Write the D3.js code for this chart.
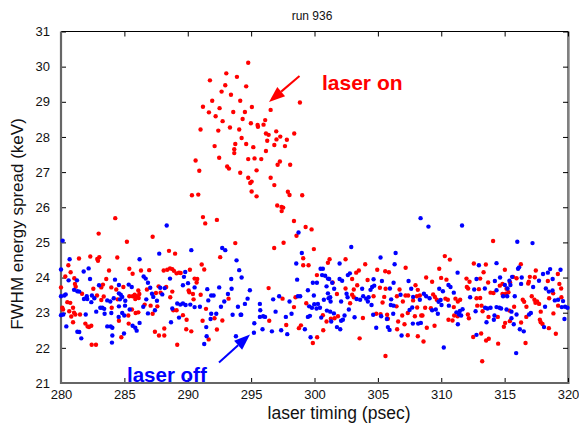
<!DOCTYPE html>
<html><head><meta charset="utf-8">
<script src="https://cdn.jsdelivr.net/npm/d3@7/dist/d3.min.js"></script>
<style>
body{margin:0;background:#fff;}
svg text{font-family:"Liberation Sans",Arial,sans-serif;}
</style></head>
<body><svg id="c" width="579" height="426"></svg>
<script>
const title = "run 936";
const xLabel = "laser timing (psec)";
const yLabel = "FWHM energy spread (keV)";
const xTicks = [280,285,290,295,300,305,310,315,320];
const yTicks = [21,22,23,24,25,26,27,28,29,30,31];
const seriesNames = ["laser on","laser off"];

// laser on (red): [timing psec, FWHM keV]
const laserOn = [
[294.77,30.11],[293.04,29.81],[293.88,29.71],[291.75,29.61],[292.96,29.47],[294.61,29.44],[292.67,29.29],[293.41,29.20],[291.93,29.03],[294.14,29.03],[298.85,28.98],[291.2,28.86],[292.51,28.82],[295.06,28.85],[291.67,28.70],[293.59,28.71],[294.51,28.71],[296.54,28.77],[292.2,28.59],[294.33,28.51],[292.75,28.45],[294.98,28.39],[295.51,28.34],[295.54,28.29],[295.98,28.35],[296.11,28.48],[291.01,28.21],[292.41,28.18],[293.33,28.27],[294.06,28.21],[296.17,28.10],[296.38,28.06],[296.98,28.16],[298.4,28.10],[297.3,28.01],[294.25,27.97],[296.27,27.89],[297.0,27.93],[297.82,27.92],[292.12,27.74],[293.75,27.80],[294.61,27.80],[295.17,27.71],[296.83,27.77],[297.67,27.74],[293.67,27.65],[296.17,27.60],[293.67,27.54],[292.48,27.41],[294.77,27.37],[295.27,27.39],[295.8,27.37],[290.62,27.33],[297.27,27.30],[297.09,27.21],[298.08,27.21],[293.11,27.16],[293.25,27.10],[290.91,27.04],[295.43,27.05],[294.14,26.98],[294.77,26.84],[296.54,26.84],[295.04,26.73],[294.93,26.69],[296.83,26.63],[295.04,26.45],[290.33,26.34],[290.83,26.36],[295.43,26.31],[297.9,26.44],[298.03,26.35],[299.03,26.34],[297.06,26.05],[297.4,26.01],[297.53,25.99],[297.41,25.89],
[298.38,25.61],[299.3,25.44],[299.77,25.37],[298.58,25.19],[297.56,24.99],[296.82,24.84],[299.95,24.81],[299.11,24.55],[299.11,24.35],[299.53,24.35],[301.19,24.52],[301.06,24.42],[300.19,24.07],[296.38,23.70],[297.48,23.40],[298.5,23.44],[299.35,23.27],[298.38,23.16],[300.66,22.93],[301.29,22.83],[296.43,22.77],[300.95,22.75],[297.77,22.65],[298.93,22.64],[298.77,22.56],[300.69,22.50],[300.21,22.30],[299.87,22.14],
[291.2,25.72],[291.38,25.54],[292.3,25.64],[287.23,25.16],[293.75,24.98],[288.52,24.76],[289.0,24.68],[292.56,24.58],[291.1,24.37],[291.3,24.23],[288.1,24.20],[288.38,24.22],[288.6,24.26],[288.78,24.24],[288.91,24.19],[289.12,24.12],[289.31,24.14],[289.44,24.13],[290.17,24.22],[286.96,24.21],[290.54,23.97],[290.75,23.96],[290.7,23.86],[287.7,23.75],[288.3,23.73],[288.78,23.60],[290.07,23.63],[290.12,23.58],[290.41,23.53],[291.02,23.51],[287.49,23.56],[287.86,23.57],[293.22,23.40],[288.62,23.44],[290.46,23.38],[287.07,23.20],[287.6,23.18],[291.44,23.11],[287.23,22.97],[288.86,23.07],[289.12,23.07],[292.11,22.84],[289.62,22.93],[289.91,22.80],[291.17,22.77],[292.73,22.78],[288.15,22.55],[289.88,22.53],[290.28,22.47],[292.3,22.52],[287.41,22.46],[287.73,22.35],[288.15,22.35],[291.65,22.24],[289.17,22.09],
[284.28,25.69],[282.97,25.25],[285.2,25.02],[281.42,24.54],[282.31,24.60],[282.86,24.53],[283.02,24.58],[282.92,24.48],[284.44,24.57],[280.58,24.35],[280.76,24.15],[283.79,24.20],[285.39,24.25],[285.65,24.11],[286.31,24.20],[280.34,24.03],[281.05,23.98],[283.57,23.96],[283.31,23.80],[283.18,23.72],[281.1,23.82],[281.16,23.74],[280.0,23.72],[284.92,23.73],[282.55,23.68],[283.97,23.72],[284.36,23.66],[286.78,23.66],[286.1,23.63],[281.66,23.54],[283.37,23.46],[283.18,23.36],[282.84,23.49],[284.47,23.38],[285.39,23.47],[285.65,23.47],[285.81,23.51],[285.97,23.47],[286.13,23.42],[285.86,23.39],[286.18,23.53],[280.73,23.28],[280.5,23.30],[280.1,23.14],[280.16,23.09],[280.95,23.14],[284.0,23.14],[286.1,23.01],[285.89,22.99],[285.6,23.09],[286.6,23.23],[280.81,22.89],[281.03,23.0],[281.13,22.95],[280.65,23.04],[281.5,22.95],[285.31,22.92],[284.57,22.77],[280.95,22.73],[281.92,22.69],[282.1,22.61],[282.21,22.59],[282.39,22.63],[285.34,22.69],[284.76,22.30],[282.42,22.09],[282.76,22.09],
[302.45,24.52],[304.0,24.38],[307.19,24.28],[304.95,24.22],[305.58,24.18],[305.87,24.15],[303.5,24.20],[303.29,24.14],[301.43,23.86],[302.97,23.96],[304.19,23.93],[307.97,23.78],[302.45,23.69],[303.37,23.78],[303.1,23.66],[305.16,23.71],[305.61,23.68],[306.71,23.66],[308.15,23.65],[301.77,23.53],[302.97,23.51],[303.1,23.44],[304.66,23.47],[305.5,23.45],[306.5,23.47],[307.18,23.49],[307.39,23.49],[308.08,23.47],[308.31,23.49],[307.78,23.35],[302.81,23.27],[305.37,23.29],[306.47,23.18],[306.97,23.32],[308.1,23.15],[304.87,22.97],[305.21,22.96],[305.73,22.94],[305.79,22.83],[306.92,22.92],[307.36,22.99],[307.92,22.90],[308.42,22.92],[301.58,22.84],[301.85,22.90],[303.82,22.85],[306.6,22.75],[307.1,22.67],[306.52,22.53],[307.36,22.36],[308.15,22.33],[303.56,22.27],[305.6,21.77],
[314.09,25.04],[310.28,24.61],[310.68,24.51],[309.84,24.25],[312.57,24.40],[313.52,24.37],[313.34,24.15],[315.02,24.22],[308.81,24.0],[309.28,23.88],[309.99,23.99],[310.41,23.94],[311.99,23.97],[312.23,23.88],[313.07,23.97],[313.7,23.86],[312.02,23.73],[312.12,23.69],[312.97,23.67],[314.62,23.77],[313.89,23.57],[314.12,23.56],[314.83,23.53],[315.1,23.54],[315.3,23.58],[309.36,23.52],[309.5,23.45],[309.65,23.37],[310.33,23.40],[310.52,23.37],[311.12,23.40],[311.31,23.32],[311.49,23.37],[312.78,23.41],[313.07,23.42],[308.73,23.14],[309.18,23.13],[310.99,23.16],[312.84,23.20],[313.18,23.20],[313.26,23.04],[308.52,22.92],[311.02,22.92],[311.29,22.90],[312.1,22.95],[312.18,22.84],[310.57,22.80],[310.89,22.78],[313.73,22.88],[314.46,22.88],[315.04,22.71],[315.41,22.76],[314.94,22.60],[308.86,22.57],[309.47,22.63],[312.52,22.31],[313.15,22.41],[313.54,22.21],[313.75,22.26],[314.49,22.12],[308.6,22.18],[313.23,21.62],
[316.28,24.38],[317.46,24.20],[319.2,24.10],[316.99,24.02],[317.38,24.01],[315.67,24.02],[315.94,23.98],[318.41,23.90],[315.43,23.86],[314.83,23.82],[316.91,23.88],[316.86,23.83],[319.32,23.82],[315.15,23.68],[319.46,23.69],[318.83,23.55],[317.14,23.47],[317.35,23.37],[317.56,23.32],[317.43,23.28],[317.72,23.25],[316.43,23.37],[316.54,23.31],[318.51,23.41],[319.48,23.44],[315.75,23.17],[315.38,23.06],[316.72,23.17],[319.22,23.20],[317.85,23.03],[318.85,22.98],[316.71,22.88],[316.3,22.72],[317.78,22.80],[317.85,22.73],[317.99,22.68],[318.49,22.56],[319.04,22.40],[316.65,22.14]
];

// laser off (blue): [timing psec, FWHM keV]
const laserOff = [
[298.74,25.28],[299.0,24.70],[298.56,24.40],[300.48,24.25],[300.66,24.25],[300.6,24.07],[300.84,24.05],[301.06,23.97],[298.63,23.94],[299.87,23.85],[300.19,23.85],[300.95,23.75],[301.4,23.85],[294.9,23.64],[299.48,23.64],[294.72,23.40],[296.74,23.38],[297.21,23.47],[298.03,23.32],[298.69,23.47],[298.87,23.47],[299.95,23.49],[299.58,23.18],[299.98,23.24],[300.27,23.25],[299.8,23.14],[300.16,23.12],[300.43,23.14],[300.74,23.37],[301.11,23.41],[300.98,23.06],[295.69,23.25],[294.51,23.25],[295.72,23.07],[296.93,23.03],[298.19,22.97],[295.69,22.88],[295.95,22.90],[296.1,22.88],[294.22,22.94],[297.74,22.88],[299.48,22.88],[299.64,22.91],[300.53,22.86],[295.25,22.70],[295.9,22.53],[296.64,22.47],[297.37,22.50],[299.24,22.53],[295.22,22.43],[297.85,22.39],[299.69,22.30],
[288.34,25.48],[292.72,24.84],[292.96,24.78],[290.28,24.78],[287.75,24.68],[293.85,24.49],[294.06,24.21],[289.8,24.16],[289.7,24.02],[288.6,23.97],[293.43,23.96],[286.86,23.85],[290.02,23.84],[289.62,23.78],[287.04,23.71],[287.83,23.71],[288.18,23.70],[290.54,23.72],[292.48,23.72],[293.46,23.68],[291.54,23.67],[287.18,23.54],[287.28,23.45],[294.25,24.0],[293.17,23.53],[287.99,23.52],[291.85,23.49],[292.04,23.49],[291.62,23.35],[292.88,23.32],[287.57,23.34],[289.17,23.26],[289.41,23.23],[289.62,23.26],[289.83,23.22],[290.2,23.23],[290.54,23.16],[290.96,23.17],[288.78,23.12],[292.62,23.17],[293.96,23.17],[287.41,23.07],[291.85,22.97],[292.25,22.97],[293.54,22.94],[294.17,22.94],[289.31,22.86],[291.8,22.82],[288.68,22.73],[291.46,22.59],[291.49,22.33],[291.3,22.11],[293.8,22.33],
[280.13,25.05],[280.68,24.52],[286.2,24.52],[280.0,24.23],[282.18,24.26],[281.79,24.17],[286.52,24.03],[286.68,23.97],[280.6,23.92],[281.26,23.92],[282.29,23.96],[284.26,23.94],[283.0,23.78],[284.57,23.79],[285.34,23.80],[285.58,23.73],[281.03,23.65],[281.29,23.61],[281.44,23.60],[280.0,23.47],[280.37,23.52],[280.26,23.49],[282.44,23.49],[282.63,23.41],[282.03,23.47],[283.65,23.35],[284.16,23.41],[284.57,23.55],[284.71,23.51],[284.83,23.45],[281.81,23.39],[282.07,23.39],[286.73,23.38],[282.39,23.30],[283.1,23.14],[283.26,23.14],[283.41,23.11],[283.89,23.32],[284.65,23.38],[285.07,23.34],[285.05,23.20],[284.57,23.18],[285.42,23.09],[286.49,23.17],[280.18,22.95],[280.0,22.93],[281.95,22.95],[282.78,23.03],[283.44,22.97],[283.97,22.99],[284.55,22.88],[284.83,22.99],[284.99,22.92],[286.86,22.98],[280.42,22.61],[283.65,22.61],[283.92,22.61],[284.05,22.57],[285.65,22.63],[285.86,22.57],[285.97,22.49],[286.2,22.71],[281.29,22.46],[281.44,22.45],[281.6,22.27],[284.05,22.35],[284.97,22.41],[284.02,22.15],
[308.37,25.69],[302.9,24.87],[306.4,24.70],[305.21,24.57],[301.98,24.40],[306.32,24.38],[302.79,24.12],[302.63,24.07],[301.16,23.96],[301.98,23.96],[302.18,23.91],[304.66,23.95],[305.32,23.90],[306.24,23.85],[307.42,23.90],[301.55,23.68],[303.76,23.68],[304.55,23.73],[304.71,23.77],[304.42,23.65],[305.95,23.69],[307.63,23.68],[301.06,23.55],[301.24,23.44],[302.53,23.54],[302.61,23.44],[303.32,23.39],[303.6,23.37],[303.84,23.47],[304.08,23.40],[304.27,23.44],[304.21,23.32],[304.5,23.22],[306.05,23.38],[306.79,23.51],[307.78,23.45],[308.31,23.37],[302.1,23.32],[301.27,23.32],[306.02,23.22],[306.24,23.20],[307.5,23.08],[307.71,23.15],[302.71,23.09],[301.24,23.03],[301.53,22.98],[304.63,22.94],[305.26,22.90],[306.21,22.97],[302.37,22.92],[302.24,22.80],[302.1,22.77],[303.16,22.87],[301.32,22.75],[305.71,22.82],[307.76,22.69],[308.18,22.69],[301.77,22.59],[302.03,22.53],[304.87,22.57],[305.79,22.59],[305.92,22.51],[306.87,22.35],
[308.99,25.45],[311.64,25.48],[311.29,24.14],[312.97,24.35],[314.36,24.41],[312.78,23.96],[314.23,23.90],[314.64,24.0],[315.38,23.91],[315.59,24.02],[310.57,23.79],[310.73,23.73],[309.84,23.68],[310.13,23.61],[312.6,23.66],[313.44,23.69],[315.02,23.79],[315.23,23.69],[315.46,23.79],[314.36,23.64],[308.63,23.54],[308.81,23.47],[309.08,23.41],[310.99,23.57],[312.28,23.44],[309.79,23.31],[310.02,23.22],[309.95,23.36],[310.6,23.20],[311.68,23.10],[311.47,23.05],[309.57,23.09],[309.28,23.07],[309.73,22.97],[313.46,23.14],[313.65,23.12],[313.89,23.14],[314.36,23.16],[314.59,23.14],[312.71,23.04],[311.2,23.01],[311.41,22.95],[311.57,22.92],[314.2,22.92],[313.57,22.73],[314.15,22.80],[308.39,22.71],[311.31,22.67],[312.78,22.37],[310.2,22.01],
[316.0,25.02],[317.2,24.98],[316.14,24.29],[316.06,24.25],[318.03,24.10],[318.41,24.14],[318.59,24.24],[319.41,24.22],[316.35,24.0],[317.71,23.91],[318.79,23.96],[316.3,23.82],[317.25,23.73],[318.25,23.69],[318.49,23.60],[318.78,23.63],[314.88,23.47],[315.2,23.47],[315.8,23.47],[318.96,23.35],[319.22,23.37],[319.61,23.33],[314.72,23.12],[315.15,23.09],[315.54,23.03],[318.19,23.17],[319.51,23.16],[319.77,23.17],[319.96,23.14],[317.07,22.99],[316.93,22.95],[315.94,22.95],[315.54,22.84],[319.72,22.82],[315.72,22.67],[318.11,22.59],[316.2,22.53],[316.51,22.47],[315.91,21.85]
];

const svg = d3.select("#c");
const L = 61, R = 568, T = 31.5, B = 383;
const x = d3.scaleLinear().domain([280,320]).range([L,R]);
const y = d3.scaleLinear().domain([21,31]).range([B,T]);

// axes (ticks inward)
const gx = svg.append("g").attr("transform",`translate(0,${B})`)
  .call(d3.axisBottom(x).tickValues(xTicks).tickSize(-5).tickPadding(7).tickFormat(d3.format("d")));
const gy = svg.append("g").attr("transform",`translate(${L},0)`)
  .call(d3.axisLeft(y).tickValues(yTicks).tickSize(-5).tickPadding(11).tickFormat(d3.format("d")));
const gt = svg.append("g").attr("transform",`translate(0,${T})`)
  .call(d3.axisTop(x).tickValues(xTicks).tickSize(-5).tickFormat(""));
const gr = svg.append("g").attr("transform",`translate(${R},0)`)
  .call(d3.axisRight(y).tickValues(yTicks).tickSize(-5).tickFormat(""));
[gx,gy,gt,gr].forEach(g=>{
  g.select(".domain").remove();
  g.selectAll("line").attr("stroke","#000");
  g.selectAll("text").attr("fill","#111").style("font-size","13px");
});

// frame
svg.append("line").attr("x1",L).attr("x2",R).attr("y1",T).attr("y2",T).attr("stroke","#000");
svg.append("line").attr("x1",R).attr("x2",R).attr("y1",T).attr("y2",B).attr("stroke","#000");
svg.append("line").attr("x1",R+1.5).attr("x2",R+1.5).attr("y1",T).attr("y2",B+1).attr("stroke","#aaa").attr("stroke-width",1);
svg.append("line").attr("x1",L).attr("x2",L).attr("y1",T).attr("y2",B+1).attr("stroke","#666").attr("stroke-width",2.2);
svg.append("line").attr("x1",L-1).attr("x2",R+1).attr("y1",B).attr("y2",B).attr("stroke","#666").attr("stroke-width",2.2);

// points
const dots = svg.append("g");
dots.selectAll("circle.on").data(laserOn).join("circle").attr("class","on")
  .attr("cx",d=>x(d[0])).attr("cy",d=>y(d[1])).attr("r",2.2).attr("fill","#ff0000");
dots.selectAll("circle.off").data(laserOff).join("circle").attr("class","off")
  .attr("cx",d=>x(d[0])).attr("cy",d=>y(d[1])).attr("r",2.2).attr("fill","#0000ff");

// title & labels
svg.append("text").attr("x",312).attr("y",20).attr("text-anchor","middle")
  .style("font-size","12px").attr("fill","#111").text(title);
svg.append("text").attr("x",339).attr("y",419).attr("text-anchor","middle")
  .style("font-size","17.5px").attr("fill","#111").text(xLabel);
svg.append("text").attr("transform","translate(23,224) rotate(-90)").attr("text-anchor","middle")
  .style("font-size","17px").attr("fill","#111").text(yLabel);

// annotations with arrows
function arrow(x1,y1,x2,y2,color){
  const ang = Math.atan2(y2-y1,x2-x1), len=16, w=6;
  const bx = x2-len*Math.cos(ang), by = y2-len*Math.sin(ang);
  svg.append("line").attr("x1",x1).attr("y1",y1).attr("x2",bx).attr("y2",by)
    .attr("stroke",color).attr("stroke-width",2);
  const px = -Math.sin(ang)*w, py = Math.cos(ang)*w;
  svg.append("path").attr("d",`M${x2},${y2}L${bx+px},${by+py}L${bx-px},${by-py}Z`).attr("fill",color);
}
arrow(299.5,76,269,102,"#ff0000");
svg.append("text").attr("x",322).attr("y",90).style("font-size","21px").style("font-weight","bold")
  .attr("fill","#ff0000").text(seriesNames[0]);
arrow(219,362.5,250,334.5,"#0000ff");
svg.append("text").attr("x",127).attr("y",382).style("font-size","20.5px").style("font-weight","bold")
  .attr("fill","#0000ff").text(seriesNames[1]);
</script></body></html>
